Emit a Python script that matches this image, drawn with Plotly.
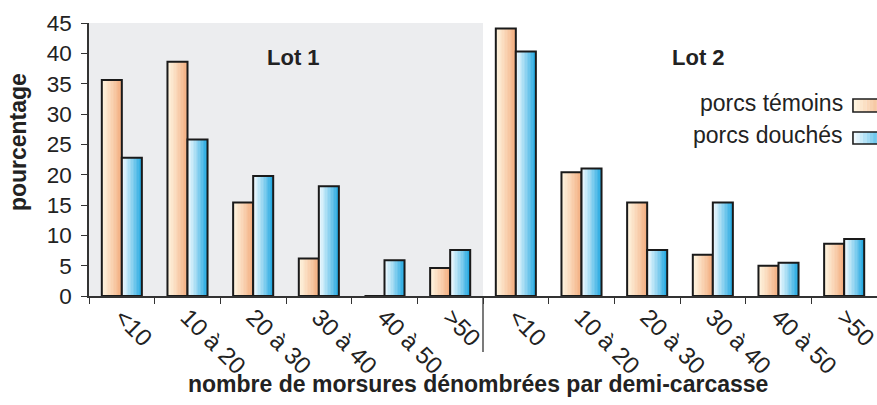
import plotly.graph_objects as go

# ---------------- data ----------------
categories = ["<10", "10 à 20", "20 à 30", "30 à 40", "40 à 50", ">50",
              "<10", "10 à 20", "20 à 30", "30 à 40", "40 à 50", ">50"]
temoins = [35.6, 38.6, 15.4, 6.2, 0, 4.6,
           44.1, 20.4, 15.4, 6.8, 5.0, 8.6]
douches = [22.8, 25.8, 19.8, 18.1, 5.9, 7.6,
           40.3, 21.0, 7.6, 15.4, 5.5, 9.4]
group_labels = ["Lot 1", "Lot 2"]
series_names = ["porcs témoins", "porcs douchés"]
y_ticks = [0, 5, 10, 15, 20, 25, 30, 35, 40, 45]

# ---------------- styling ----------------
FONT = "Liberation Sans, Arial, Helvetica, sans-serif"
TXT = "#222222"
AX = "#333333"
ORANGE = ((255, 246, 226), (242, 172, 126))
BLUE = ((246, 252, 255), (30, 166, 224))
N_SLICES = 14
BW = 0.305  # bar width in category units

idx = list(range(len(categories)))


def ramp(c0, c1, t):
    t = t ** 1.15
    return "rgb(%d,%d,%d)" % tuple(round(a + (b - a) * t) for a, b in zip(c0, c1))


fig = go.Figure()


def add_series(values, cols, off0, name):
    w = BW / N_SLICES
    for k in range(N_SLICES):
        fig.add_trace(go.Bar(
            x=idx, y=values, width=w * 1.04, offset=off0 + k * w,
            marker=dict(color=ramp(cols[0], cols[1], (k + 0.5) / N_SLICES), line=dict(width=0)),
            showlegend=False, hoverinfo="skip", name=name))
    fig.add_trace(go.Bar(
        x=idx, y=values, width=BW, offset=off0,
        marker=dict(color="rgba(0,0,0,0)", line=dict(color="#1a1a1a", width=2)),
        showlegend=False, name=name))


add_series(temoins, ORANGE, -BW, series_names[0])
add_series(douches, BLUE, 0.0, series_names[1])

# invisible trace to carry the boundary-tick axis
fig.add_trace(go.Scatter(x=[-0.5, 11.5], y=[0, 0], xaxis="x2", mode="lines",
                         line=dict(width=0), showlegend=False, hoverinfo="skip"))

shapes = [
    # grey background of lot 1
    dict(type="rect", xref="x", yref="y", x0=-0.5, x1=5.5, y0=0, y1=45,
         fillcolor="#ECEDEF", line=dict(width=0), layer="below"),
    # separator below axis
    dict(type="line", xref="x", yref="paper", x0=5.5, x1=5.5, y0=0, y1=-0.205,
         line=dict(color=AX, width=1.3)),
]

# legend swatches (right side)
sw_y = [(0.674, 0.7216), (0.5568, 0.6007)]
for (y0, y1), cols in zip(sw_y, [ORANGE, BLUE]):
    xs0, xs1 = 0.9695, 1.012
    n = 10
    for k in range(n):
        shapes.append(dict(type="rect", xref="paper", yref="paper",
                           x0=xs0 + (xs1 - xs0) * k / n, x1=xs0 + (xs1 - xs0) * (k + 1.05) / n,
                           y0=y0, y1=y1, fillcolor=ramp(cols[0], cols[1], (k + 0.5) / n),
                           line=dict(width=0)))
    shapes.append(dict(type="rect", xref="paper", yref="paper", x0=xs0, x1=xs1,
                       y0=y0, y1=y1, line=dict(color="#1e1e1e", width=1.6)))


def ann(text, x, y, size, xanchor="center", angle=0):
    return dict(text=text, xref="paper", yref="paper", x=x, y=y, xanchor=xanchor,
                yanchor="middle", textangle=angle, showarrow=False,
                font=dict(size=size, color=TXT, family=FONT))


annotations = [
    ann("<b>%s</b>" % group_labels[0], 0.26, 0.875, 22),
    ann("<b>%s</b>" % group_labels[1], 0.773, 0.875, 22),
    ann(series_names[0], 0.9595, 0.707, 23, xanchor="right"),
    ann(series_names[1], 0.9595, 0.5897, 23, xanchor="right"),
    ann("<b>nombre de morsures dénombrées par demi-carcasse</b>", 0.4935, -0.322, 23),
    ann("<b>pourcentage</b>", -0.090, 0.564, 23, angle=-90),
]

fig.update_layout(
    width=877, height=405,
    margin=dict(l=89, r=0, t=23, b=109, autoexpand=False),
    paper_bgcolor="white", plot_bgcolor="white",
    barmode="overlay",
    font=dict(family=FONT, color=TXT),
    shapes=shapes, annotations=annotations,
    xaxis=dict(range=[-0.5, 11.5], tickmode="array", tickvals=idx, ticktext=categories,
               tickangle=45, ticks="", showgrid=False, zeroline=False, automargin=False,
               ticklabeloverflow="allow", ticklabelstandoff=-4,
               showline=True, linecolor=AX, linewidth=1.5,
               tickfont=dict(size=24, color=TXT, family=FONT)),
    xaxis2=dict(range=[-0.5, 11.5], overlaying="x", anchor="y", side="bottom",
                tickmode="array", tickvals=[i - 0.5 for i in range(13)], automargin=False,
                ticks="outside", ticklen=7, tickwidth=1.3, tickcolor=AX,
                showticklabels=False, showgrid=False, zeroline=False, showline=False),
    yaxis=dict(range=[0, 45], tickmode="array", tickvals=y_ticks, automargin=False,
               ticks="outside", ticklen=6, tickwidth=1.3, tickcolor=AX,
               ticklabelstandoff=5,
               showline=True, linecolor=AX, linewidth=1.5,
               showgrid=False, zeroline=False,
               tickfont=dict(size=22.5, color=TXT, family=FONT)),
)

fig.write_html("out.html", config={"displayModeBar": False},
               post_script="document.body.style.margin='0';document.body.style.overflow='hidden';")
